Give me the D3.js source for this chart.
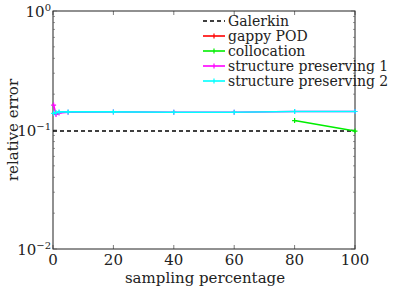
<!DOCTYPE html>
<html>
<head>
<meta charset="utf-8">
<script src="https://cdn.jsdelivr.net/npm/d3@7"></script>
<style>
  body { margin: 0; background: #fff; }
</style>
</head>
<body>
<svg id="chart" width="399" height="286" font-family="'DejaVu Serif', 'Liberation Serif', serif" fill="#222"></svg>
<script>
// data
const samplingPct = [0.2, 1, 2, 5, 20, 40, 60, 80, 100];
const galerkin = [0.098, 0.098];
const galerkinX = [0, 100];
const gappyPOD = [];            // not visible in the plot range
const collocationX = [80, 100];
const collocation = [0.12, 0.098];
const sp1 = [0.162, 0.135, 0.139, 0.141, 0.142, 0.141, 0.141, 0.143, 0.143];
const sp2 = [0.138, 0.140, 0.142, 0.142, 0.142, 0.141, 0.141, 0.143, 0.143];
const xTicks = [0, 20, 40, 60, 80, 100];
const yTicks = [1e-2, 1e-1, 1e0];
const yTickLabels = ["10", "10", "10"];
const yTickExp = ["−2", "−1", "0"];

const svg = d3.select("#chart");
const m = { left: 53, right: 44, top: 11, bottom: 37 };
const W = 399, H = 286;
const x = d3.scaleLinear().domain([0, 100]).range([m.left, W - m.right]);
const y = d3.scaleLog().domain([1e-2, 1]).range([H - m.bottom, m.top]);

// minor ticks for log axis
const minor = [];
for (let d = 1e-2; d < 1; d *= 10) for (let k = 2; k <= 9; k++) minor.push(d * k);

const g = svg.append("g");
// frame
g.append("rect").attr("x", x(0)).attr("y", y(1)).attr("width", x(100) - x(0)).attr("height", y(1e-2) - y(1))
  .attr("fill", "none").attr("stroke", "#222").attr("stroke-width", 1);

// ticks inward
xTicks.forEach(t => {
  g.append("line").attr("x1", x(t)).attr("x2", x(t)).attr("y1", y(1e-2)).attr("y2", y(1e-2) - 4).attr("stroke", "#222").attr("stroke-width", 0.6);
  g.append("line").attr("x1", x(t)).attr("x2", x(t)).attr("y1", y(1)).attr("y2", y(1) + 4).attr("stroke", "#222").attr("stroke-width", 0.6);
  g.append("text").attr("x", x(t)).attr("y", 265).attr("text-anchor", "middle").attr("font-size", 15).text(t);
});
minor.concat(yTicks).forEach(t => {
  const len = yTicks.includes(t) ? 4 : 2;
  g.append("line").attr("x1", x(0)).attr("x2", x(0) + len).attr("y1", y(t)).attr("y2", y(t)).attr("stroke", "#555").attr("stroke-width", 0.6);
  g.append("line").attr("x1", x(100)).attr("x2", x(100) - len).attr("y1", y(t)).attr("y2", y(t)).attr("stroke", "#555").attr("stroke-width", 0.6);
});
yTicks.forEach((t, i) => {
  const tx = g.append("text").attr("x", 51).attr("y", y(t) + 6).attr("text-anchor", "end").attr("font-size", 15);
  tx.append("tspan").text(yTickLabels[i]);
  tx.append("tspan").attr("dy", -6).attr("font-size", 10).text(yTickExp[i]);
});

// axis labels
g.append("text").attr("x", 205).attr("y", 283).attr("text-anchor", "middle").attr("font-size", 15).text("sampling percentage");
g.append("text").attr("transform", `translate(18,${y(0.1)}) rotate(-90)`).attr("text-anchor", "middle").attr("font-size", 15).text("relative error");

const line = d3.line().x(d => x(d[0])).y(d => y(d[1]));
const series = [
  { name: "Galerkin", color: "#000", dash: "4,3", xs: galerkinX, ys: galerkin, marks: false },
  { name: "gappy POD", color: "#ff0000", xs: samplingPct, ys: gappyPOD, marks: true },
  { name: "collocation", color: "#00ee00", xs: collocationX, ys: collocation, marks: true },
  { name: "structure preserving 1", color: "#ff00ff", xs: samplingPct, ys: sp1, marks: true },
  { name: "structure preserving 2", color: "#00ffff", xs: samplingPct, ys: sp2, marks: true }
];

series.forEach(s => {
  const pts = s.ys.map((v, i) => [s.xs[i], v]);
  if (!pts.length) return;
  g.append("path").datum(pts).attr("d", line).attr("fill", "none")
    .attr("stroke", s.color).attr("stroke-width", 1.6).attr("stroke-dasharray", s.dash || null);
  if (s.marks) pts.forEach(p => {
    g.append("path").attr("d", `M${x(p[0]) - 2.5},${y(p[1])}h5M${x(p[0])},${y(p[1]) - 2.5}v5`)
      .attr("stroke", s.color).attr("stroke-width", 1.2);
  });
});

// legend
series.forEach((s, i) => {
  const ly = 21 + i * 15;
  g.append("line").attr("x1", 203).attr("x2", 225).attr("y1", ly).attr("y2", ly)
    .attr("stroke", s.color).attr("stroke-width", 1.6).attr("stroke-dasharray", s.dash || null);
  if (s.marks) g.append("line").attr("x1", 214).attr("x2", 214).attr("y1", ly - 2.5).attr("y2", ly + 2.5).attr("stroke", s.color).attr("stroke-width", 1.2);
  g.append("text").attr("x", 228).attr("y", ly + 5).attr("font-size", 14).text(s.name);
});
</script>
</body>
</html>
